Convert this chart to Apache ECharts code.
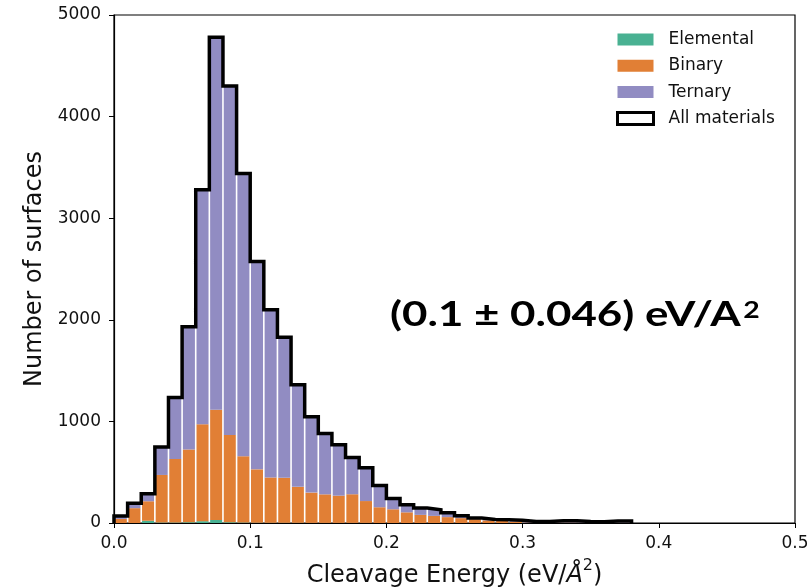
<!DOCTYPE html>
<html>
<head>
<meta charset="utf-8">
<script src="https://cdn.jsdelivr.net/npm/echarts@6/dist/echarts.min.js"></script>
<style>
html,body{margin:0;padding:0;background:#fff;}
#chart{width:807px;height:588px;}
</style>
</head>
<body>
<div id="chart"></div>
<script>
// ---- data ----
const binStarts = [0.00,0.01,0.02,0.03,0.04,0.05,0.06,0.07,0.08,0.09,
                   0.10,0.11,0.12,0.13,0.14,0.15,0.16,0.17,0.18,0.19,
                   0.20,0.21,0.22,0.23,0.24,0.25,0.26,0.27,0.28,0.29,
                   0.30,0.31,0.32,0.33,0.34,0.35,0.36,0.37];
const binWidth = 0.01;
const elemental = [0,0,22,5,5,8,18,30,8,5,3,2,2,2,1,1,1,1,1,0,
                   0,0,0,0,0,0,0,0,0,0,0,0,0,0,0,0,0,0];
const binary    = [40,146,192,468,625,715,953,1084,857,652,525,446,443,354,298,281,268,282,215,155,
                   135,105,80,70,58,48,38,26,24,14,5,5,5,5,4,3,4,4];
const ternary   = [30,49,74,275,606,1209,2309,3666,3435,2783,2047,1652,1383,1004,746,598,501,361,329,215,
                   105,75,68,60,42,24,12,8,8,14,9,9,17,17,10,9,16,16];
const seriesNames = ['Elemental','Binary','Ternary','All materials'];
const xTitle = 'Cleavage Energy (eV/';
const yTitle = 'Number of surfaces';
const annotation = '(0.1 ± 0.046) eV/A';

const colors = ['#49b192','#e17f35','#918cc2'];

// ---- build ----
const layers = [elemental, binary, ternary];
function stackedData(i) {
  return binStarts.map((x, k) => {
    let base = 0;
    for (let j = 0; j < i; j++) base += layers[j][k];
    return [x, x + binWidth, base, base + layers[i][k]];
  });
}
const totals = binStarts.map((x, k) => elemental[k] + binary[k] + ternary[k]);
const n = binStarts.length;
const outline = [[binStarts[0], 0]];
binStarts.forEach((x, k) => outline.push([x, totals[k]]));
const lastEdge = binStarts[n - 1] + binWidth;
outline.push([lastEdge, totals[n - 1]]);
outline.push([lastEdge, 0]);

function renderBar(color) {
  return function (params, api) {
    const p0 = api.coord([api.value(0), api.value(2)]);
    const p1 = api.coord([api.value(1), api.value(3)]);
    const gap = 0.8;
    return {
      type: 'rect',
      shape: { x: p0[0] + gap, y: p1[1], width: p1[0] - p0[0] - 2 * gap, height: p0[1] - p1[1] },
      style: { fill: color }
    };
  };
}

const font = 'DejaVu Sans';
const chart = echarts.init(document.getElementById('chart'), null, { renderer: 'canvas' });

const option = {
  animation: false,
  backgroundColor: '#fff',
  grid: { left: 114, right: 12, top: 15, bottom: 65, containLabel: false, outerBoundsMode: 'none',
          show: true, borderColor: '#000', borderWidth: 1.2, backgroundColor: 'transparent' },
  xAxis: {
    type: 'value', min: 0, max: 0.5, interval: 0.1,
    axisLine: { show: true, lineStyle: { color: '#000', width: 1.2 } },
    axisTick: { show: true, length: 5, lineStyle: { color: '#000', width: 1 } },
    axisLabel: { margin: 12, fontFamily: font, fontSize: 17, color: '#111', formatter: v => v.toFixed(1) },
    splitLine: { show: false },
    name: '{t|' + xTitle + '}{a|Å}{s|2}{t|)}',
    nameLocation: 'middle', nameGap: 35,
    nameTextStyle: {
      rich: {
        t: { fontFamily: font, fontSize: 24, color: '#111', lineHeight: 30, verticalAlign: 'bottom' },
        a: { fontFamily: font, fontSize: 24, color: '#111', fontStyle: 'italic', lineHeight: 30, verticalAlign: 'bottom' },
        s: { fontFamily: font, fontSize: 16, color: '#111', lineHeight: 30, verticalAlign: 'top' }
      }
    }
  },
  yAxis: {
    type: 'value', min: 0, max: 5000, interval: 1000,
    axisLine: { show: true, lineStyle: { color: '#000', width: 1.2 } },
    axisTick: { show: true, length: 5, lineStyle: { color: '#000', width: 1 } },
    axisLabel: { margin: 13, fontFamily: font, fontSize: 17, color: '#111', formatter: v => String(v) },
    splitLine: { show: false },
    name: yTitle, nameLocation: 'middle', nameGap: 60,
    nameTextStyle: { fontFamily: font, fontSize: 24, color: '#111' }
  },
  legend: {
    orient: 'vertical', left: 611, top: 26,
    itemWidth: 36, itemHeight: 12, itemGap: 9.3,
    textStyle: { fontFamily: font, fontSize: 17, color: '#111', lineHeight: 12, padding: [0, 0, 0, 10] },
    data: [
      { name: seriesNames[0], icon: 'rect', itemStyle: { color: colors[0] } },
      { name: seriesNames[1], icon: 'rect', itemStyle: { color: colors[1] } },
      { name: seriesNames[2], icon: 'rect', itemStyle: { color: colors[2] } },
      { name: seriesNames[3], icon: 'rect', itemStyle: { color: '#fff', borderColor: '#000', borderWidth: 3 } }
    ]
  },
  graphic: [{
    type: 'text', x: 390, y: 290, scaleX: 1.29, z: 100,
    style: {
      text: '{m|' + annotation + '}{s|2}',
      rich: {
        m: { fontFamily: 'Lato', fontWeight: 'bold', fontSize: 34, fill: '#000', lineHeight: 42, verticalAlign: 'bottom' },
        s: { fontFamily: 'Lato', fontWeight: 'bold', fontSize: 22, fill: '#000', lineHeight: 22, verticalAlign: 'top', padding: [10, 0, 0, 2] }
      }
    }
  }],
  series: [
    ...[0, 1, 2].map(i => ({
      name: seriesNames[i], type: 'custom', renderItem: renderBar(colors[i]),
      itemStyle: { color: colors[i] },
      encode: { x: [0, 1], y: [2, 3] },
      data: stackedData(i), clip: true, z: 2
    })),
    {
      name: seriesNames[3], type: 'line', step: 'end', data: outline,
      symbol: 'none', z: 5,
      itemStyle: { color: '#fff', borderColor: '#000' },
      lineStyle: { color: '#000', width: 3.5, join: 'miter', cap: 'butt' }
    }
  ]
};
chart.setOption(option);
</script>
</body>
</html>
